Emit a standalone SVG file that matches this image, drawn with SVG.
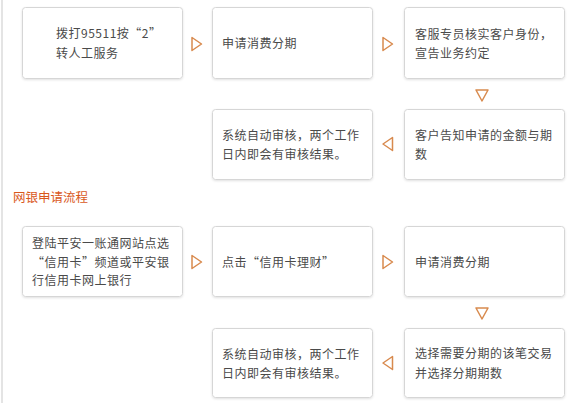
<svg xmlns="http://www.w3.org/2000/svg" width="585" height="403" viewBox="0 0 585 403">
<defs>
<filter id="sh" x="-5%" y="-5%" width="110%" height="115%">
<feDropShadow dx="0" dy="1" stdDeviation="0.8" flood-color="#000" flood-opacity="0.12"/>
</filter>
</defs>
<style>
.box{fill:#fff;stroke:#d6d6d6;stroke-width:1;filter:url(#sh)}
.t{font-family:"Noto Sans CJK SC","Liberation Sans",sans-serif;font-size:12px;letter-spacing:0.5px;fill:#4a4a4a}
.title{font-family:"Noto Sans CJK SC","Liberation Sans",sans-serif;font-size:12.5px;fill:#d9581c}
.arr{fill:none;stroke:#d88a4e;stroke-width:1.5;stroke-linejoin:round}
</style>
<rect width="585" height="403" fill="#fff"/>
<line x1="2" y1="0" x2="2" y2="403" stroke="#d2d2d2" stroke-width="1.2"/>
<text class="title" x="13" y="202">网银申请流程</text>
<g id="n1"><rect class="box" x="22.5" y="7.5" width="160" height="71" rx="3"/><text class="t" x="56" y="38" letter-spacing="0">拨打95511按“2”</text><text class="t" x="56" y="58">转人工服务</text></g>
<g id="n2"><rect class="box" x="212.5" y="7.5" width="160" height="71" rx="3"/><text class="t" x="222" y="48">申请消费分期</text></g>
<g id="n3"><rect class="box" x="404.5" y="7.5" width="160" height="71" rx="3"/><text class="t" x="415" y="39">客服专员核实客户身份，</text><text class="t" x="415" y="58">宣告业务约定</text></g>
<g id="n4"><rect class="box" x="404.5" y="109.5" width="160" height="70" rx="3"/><text class="t" x="415" y="140">客户告知申请的金额与期</text><text class="t" x="415" y="159">数</text></g>
<g id="n5"><rect class="box" x="212.5" y="109.5" width="160" height="70" rx="3"/><text class="t" x="222" y="140">系统自动审核，两个工作</text><text class="t" x="222" y="159">日内即会有审核结果。</text></g>
<g id="n6"><rect class="box" x="22.5" y="226.5" width="160" height="70" rx="3"/><text class="t" x="32" y="248">登陆平安一账通网站点选</text><text class="t" x="32" y="267">“信用卡”频道或平安银</text><text class="t" x="32" y="285">行信用卡网上银行</text></g>
<g id="n7"><rect class="box" x="212.5" y="226.5" width="160" height="70" rx="3"/><text class="t" x="222" y="267">点击“信用卡理财”</text></g>
<g id="n8"><rect class="box" x="404.5" y="226.5" width="160" height="70" rx="3"/><text class="t" x="415" y="267">申请消费分期</text></g>
<g id="n9"><rect class="box" x="404.5" y="328.5" width="160" height="69" rx="3"/><text class="t" x="415" y="358">选择需要分期的该笔交易</text><text class="t" x="415" y="378">并选择分期期数</text></g>
<g id="n10"><rect class="box" x="212.5" y="328.5" width="160" height="69" rx="3"/><text class="t" x="222" y="359">系统自动审核，两个工作</text><text class="t" x="222" y="378">日内即会有审核结果。</text></g>
<g id="connectors">
<polygon class="arr" points="192,37.5 201.5,44 192,50.5"/>
<polygon class="arr" points="383,37.5 392.5,44 383,50.5"/>
<polygon class="arr" points="476,90 488,90 482,101"/>
<polygon class="arr" points="392.5,137.5 383,144 392.5,150.5"/>
<polygon class="arr" points="192,255.5 201.5,262 192,268.5"/>
<polygon class="arr" points="383,255.5 392.5,262 383,268.5"/>
<polygon class="arr" points="476,308 488,308 482,319"/>
<polygon class="arr" points="392.5,356.5 383,363 392.5,369.5"/>
</g>
</svg>
